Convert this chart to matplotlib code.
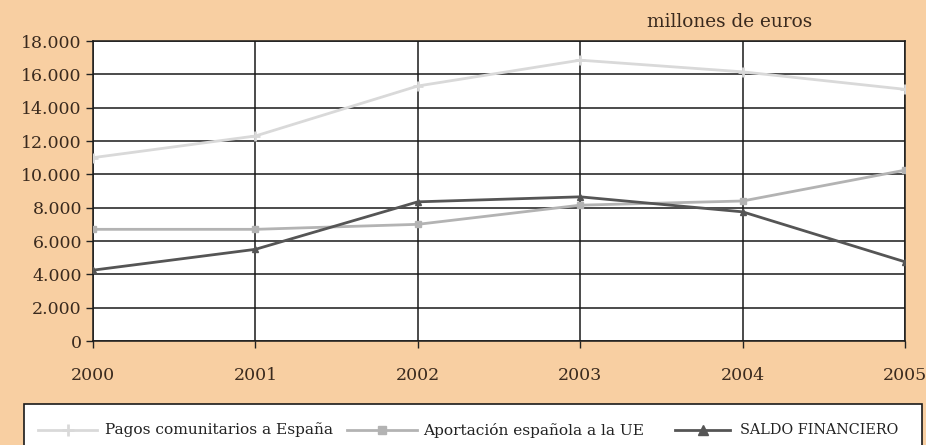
import numpy as np
import matplotlib.pyplot as plt
from matplotlib.lines import Line2D
from matplotlib.patches import Rectangle

# Values (millones de euros)
years = [2000, 2001, 2002, 2003, 2004, 2005]
pagos = [11000, 12300, 15300, 16850, 16150, 15100]
aportacion = [6700, 6700, 7000, 8150, 8400, 10250]
saldo = [4250, 5500, 8350, 8650, 7750, 4750]

series_labels = ["Pagos comunitarios a España", "Aportación española a la UE", "SALDO FINANCIERO"]

y_ticks = list(range(0, 18001, 2000))
y_labels = ["0"] + [f"{v // 1000}.000" for v in y_ticks[1:]]

bg = "#f8cfa2"
font = "DejaVu Serif"
text_col = "#3a2a1e"
W, H = 926, 445

styles = [
    dict(color="#d9d9d9", lw=2, marker="+", ms=7, mew=2),
    dict(color="#b3b3b3", lw=2, marker="s", ms=4),
    dict(color="#555555", lw=2, marker="^", ms=5),
]

fig = plt.figure(figsize=(W / 100, H / 100), dpi=100, facecolor=bg)
ax = fig.add_axes([93 / W, 1 - 341 / H, 812 / W, 300 / H])
ax.set_facecolor("white")

for vals, st, z in zip([pagos, aportacion, saldo], styles, [3, 3, 4]):
    ax.plot(years, vals, zorder=z, **st)

ax.set_xlim(2000, 2005)
ax.set_ylim(0, 18000)
ax.set_yticks(y_ticks)
ax.set_yticklabels(y_labels, fontfamily=font, fontsize=12.5, color=text_col)
ax.set_xticks(years)
ax.set_xticklabels([str(y) for y in years], fontfamily=font, fontsize=12.5, color=text_col)
ax.tick_params(axis="y", length=5, width=1, color="#222222", pad=3)
ax.tick_params(axis="x", length=5, width=1, color="#222222", pad=14)
ax.grid(True, color="#1a1a1a", lw=1.1, zorder=1)
for s in ax.spines.values():
    s.set_color("#1a1a1a")
    s.set_linewidth(1.1)

fig.text(730 / W, 1 - 22 / H, "millones de euros", fontfamily=font, fontsize=13.3,
         color=text_col, ha="center", va="center")

# Legend box at the bottom, entries placed by hand
fig.patches.append(Rectangle((24 / W, -0.01), 898 / W, 41 / H + 0.01,
                             transform=fig.transFigure, facecolor="white",
                             edgecolor="#1a1a1a", lw=1.2))
legend_pos = [(38, 97, 105), (347, 417, 423), (675, 730, 740)]
legend_sizes = [11.1, 11.1, 10.4]
ly = 1 - 430 / H
for (x0, x1, xt), st, lab, fs in zip(legend_pos, styles, series_labels, legend_sizes):
    st2 = dict(st)
    st2["ms"] = st2["ms"] + 1.5
    fig.add_artist(Line2D([x0 / W, (x0 + x1) / 2 / W, x1 / W], [ly] * 3,
                          transform=fig.transFigure, markevery=[1], **st2))
    fig.text(xt / W, ly, lab, fontfamily=font, fontsize=fs, color="#222222",
             ha="left", va="center")

fig.savefig("out.png", dpi=100, facecolor=bg)
